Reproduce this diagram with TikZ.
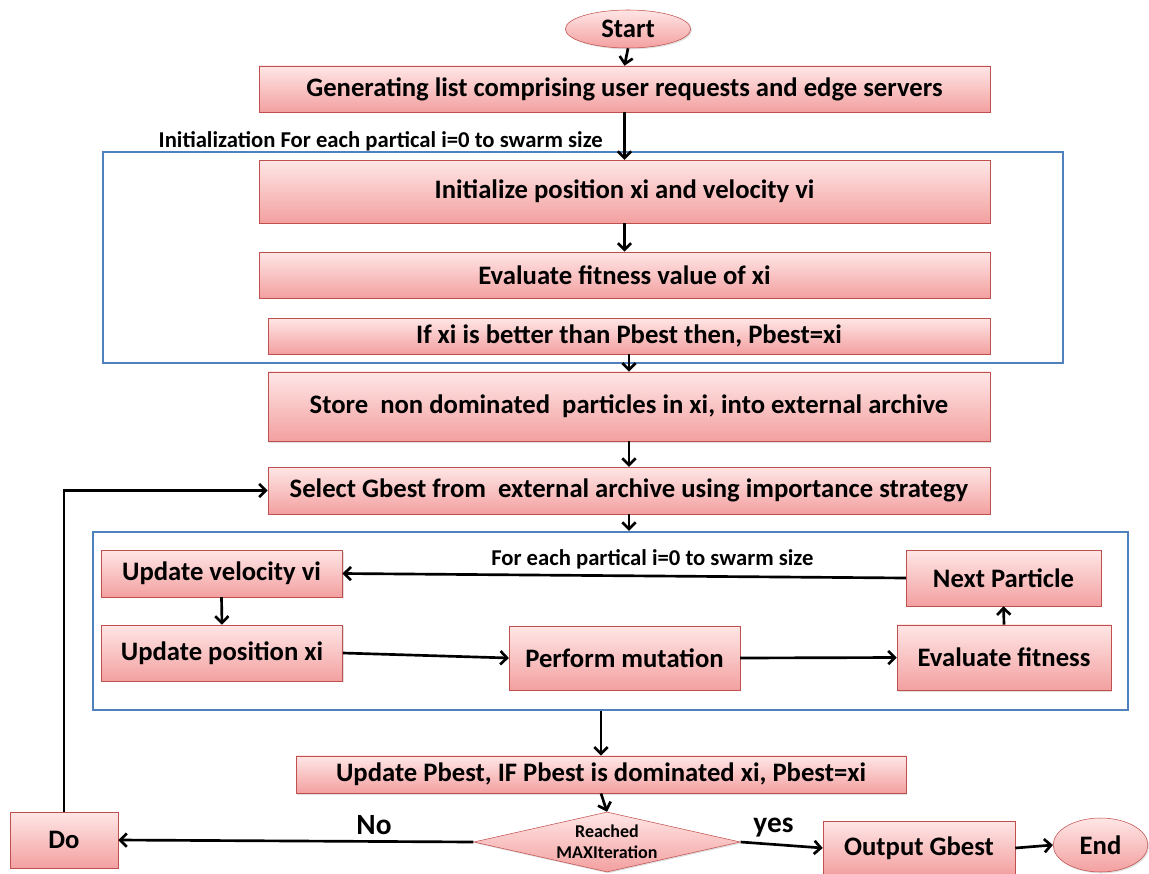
\documentclass[tikz,border=0pt]{standalone}
\usepackage{fontspec}
\setmainfont{Carlito}
\usetikzlibrary{positioning, shapes.geometric, arrows.meta, shadows}
\definecolor{boxedge}{HTML}{C0504D}
\definecolor{boxtop}{HTML}{FFE6E6}
\definecolor{boxbottom}{HTML}{F3A0A0}
\definecolor{frameblue}{HTML}{4F81BD}

\begin{document}
\begin{tikzpicture}[x=0.75pt, y=-0.75pt,
                procbox/.style={draw=boxedge, thin, rectangle, top color=boxtop, bottom color=boxbottom, drop shadow={opacity=0.25, shadow xshift=1pt, shadow yshift=-1pt}, font=\bfseries\fontsize{20}{24}\selectfont, inner sep=2pt},
                termnode/.style={procbox, ellipse},
                decision/.style={procbox, diamond, aspect=4.45, inner sep=-5pt, align=center, font=\bfseries\fontsize{13.5}{16}\selectfont},
                loopframe/.style={draw=frameblue, line width=1.8pt, rectangle, inner sep=0pt},
                edge/.style={line width=2pt, -{Straight Barb[length=5pt, width=10pt]}},
                looplabel/.style={font=\bfseries\fontsize{17}{20}\selectfont},
                branchlabel/.style={font=\bfseries\fontsize{22}{26}\selectfont}
            ]
            \useasboundingbox (0,0) rectangle (1149,874);

            % frames
            \node[loopframe, minimum width=720pt, minimum height=158pt] (frameA) at (583,257.5) {};
            \node[loopframe, minimum width=776pt, minimum height=133.5pt] (frameB) at (610.5,621) {};

            % nodes
            \node[termnode, minimum width=94pt, minimum height=28.5pt] (start) at (628,29) {Start};
            \node[procbox, minimum width=548pt, minimum height=34.5pt] (gen) at (624.5,89) {Generating list comprising user requests and edge servers};
            \node[procbox, minimum width=548pt, minimum height=47pt] (init) at (624.5,191.5) {Initialize position xi and velocity vi};
            \node[procbox, minimum width=548pt, minimum height=34.5pt] (evalx) at (624.5,275) {Evaluate fitness value of xi};
            \node[procbox, minimum width=541.5pt, minimum height=27pt] (ifbest) at (629,336) {If xi is better than Pbest then, Pbest=xi};
            \node[procbox, minimum width=541.5pt, minimum height=52pt] (store) at (629,406.5) {Store\ \ non dominated\ \ particles in xi, into external archive};
            \node[procbox, minimum width=541.5pt, minimum height=35pt] (sel) at (629,490.5) {Select Gbest from\ \ external archive using importance strategy};
            \node[procbox, minimum width=181pt, minimum height=35pt] (vel) at (221.5,573.5) {Update velocity vi};
            \node[procbox, minimum width=181pt, minimum height=42pt] (pos) at (222,653) {Update position xi};
            \node[procbox, minimum width=173pt, minimum height=48pt] (mut) at (624.5,658) {Perform mutation};
            \node[procbox, minimum width=160.5pt, minimum height=49pt] (fit) at (1004,657.5) {Evaluate fitness};
            \node[procbox, minimum width=146pt, minimum height=42pt] (next) at (1003.5,578) {Next Particle};
            \node[procbox, minimum width=457.5pt, minimum height=28pt] (pbest) at (601,774.5) {Update Pbest, IF Pbest is dominated xi, Pbest=xi};
            \node[decision, minimum width=200pt, minimum height=45pt] (dec) at (607,842) {Reached\\MAXIteration};
            \node[procbox, minimum width=81pt, minimum height=42pt] (do) at (64,840) {Do};
            \node[procbox, minimum width=144pt, minimum height=40pt] (out) at (919,848) {Output Gbest};
            \node[termnode, minimum width=71pt, minimum height=40.5pt] (end) at (1100.5,845) {End};

            % edges
            \draw[edge] (start.south) -- (gen.north);
            \draw[edge] (gen.south) -- (init.north) node[pos=0.62, left=12pt, looplabel] {Initialization For each partical i=0 to swarm size};
            \draw[edge] (init.south) -- (evalx.north);
            \draw[edge] (ifbest.south) -- (store.north);
            \draw[edge] (store.south) -- (sel.north);
            \draw[edge] (sel.south) -- (sel.south |- frameB.north);
            \draw[edge] (vel.south) -- (pos.north);
            \draw[edge] (pos.east) -- (mut.west);
            \draw[edge] (mut.east) -- (fit.west);
            \draw[edge] (fit.north) -- (next.south);
            \draw[edge] (next.west) -- (vel.east) node[pos=0.45, above=1pt, looplabel] {For each partical i=0 to swarm size};
            \draw[edge] (frameB.south -| pbest.north) -- (pbest.north);
            \draw[edge] (pbest.south) -- (dec.north);
            \draw[edge] (dec.west) -- (do.east) node[pos=0.28, above=1pt, branchlabel] {No};
            \draw[edge] (dec.east) -- (out.west) node[pos=0.4, above=1pt, branchlabel] {yes};
            \draw[edge] (out.east) -- (end.west);
            \draw[edge] (do.north) |- (sel.west);

        \end{tikzpicture}
\end{document}
